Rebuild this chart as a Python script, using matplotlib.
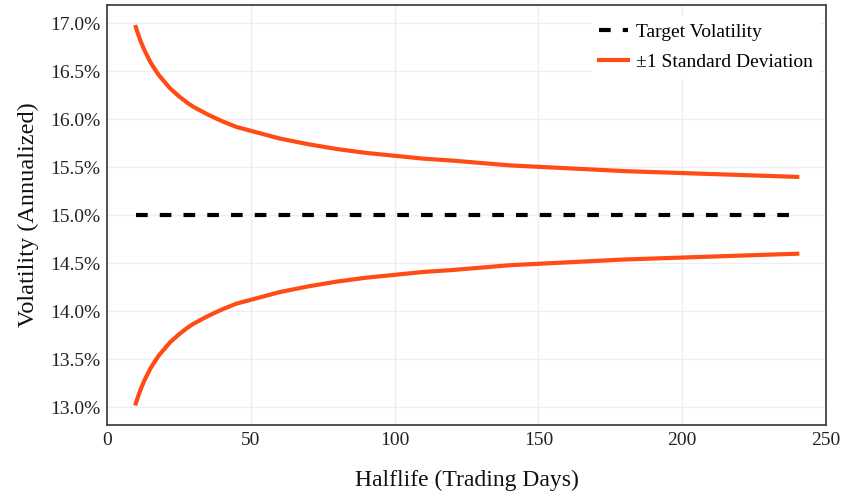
import matplotlib
matplotlib.use("Agg")
import matplotlib.pyplot as plt
from matplotlib.ticker import FuncFormatter

plt.rcParams['font.family'] = ['Liberation Serif', 'DejaVu Serif']

# halflife in trading days and the +/-1 std bands (annualized vol, %)
halflife = [10, 11, 12, 13, 14, 15, 16, 18, 20, 22, 25, 28, 30, 35, 40, 45, 50,
            60, 70, 80, 90, 100, 110, 120, 140, 160, 180, 200, 220, 240]
upper = [16.96, 16.87, 16.79, 16.72, 16.66, 16.60, 16.55, 16.46, 16.39, 16.32,
         16.24, 16.17, 16.13, 16.05, 15.98, 15.92, 15.88, 15.80, 15.74, 15.69,
         15.65, 15.62, 15.59, 15.57, 15.52, 15.49, 15.46, 15.44, 15.42, 15.40]
lower = [13.04, 13.13, 13.21, 13.28, 13.34, 13.40, 13.45, 13.54, 13.61, 13.68,
         13.76, 13.83, 13.87, 13.95, 14.02, 14.08, 14.12, 14.20, 14.26, 14.31,
         14.35, 14.38, 14.41, 14.43, 14.48, 14.51, 14.54, 14.56, 14.58, 14.60]
target = 15.0

orange = '#ff4b14'

fig = plt.figure(figsize=(8.44, 4.96), dpi=100)
ax = fig.add_axes([0.1268, 0.1431, 0.8519, 0.8468])

ax.plot([halflife[0], halflife[-1]], [target, target], color='black', lw=3,
        ls=(0, (2.8, 2.9)), label='Target Volatility')
ax.plot(halflife, upper, color=orange, lw=3, label='±1 Standard Deviation')
ax.plot(halflife, lower, color=orange, lw=3)

ax.set_xlim(0, 250)
ax.set_ylim(12.816, 17.19)
ax.set_xticks([0, 50, 100, 150, 200, 250])
ax.set_yticks([13.0, 13.5, 14.0, 14.5, 15.0, 15.5, 16.0, 16.5, 17.0])
ax.yaxis.set_major_formatter(FuncFormatter(lambda v, p: f'{v:.1f}%'))
ax.tick_params(length=0, labelsize=14, colors='#222222', pad=5)
ax.grid(True, color='#eceef4', lw=1)
ax.set_axisbelow(True)
for s in ax.spines.values():
    s.set_color('#444444')
    s.set_linewidth(1.3)

ax.set_xlabel('Halflife (Trading Days)', fontsize=17, color='#111111', labelpad=15)
ax.set_ylabel('Volatility (Annualized)', fontsize=17.5, color='#111111', labelpad=8)

leg = ax.legend(loc='upper right', bbox_to_anchor=(1.0, 0.988), fontsize=14,
                frameon=True, fancybox=False, edgecolor='none', framealpha=1,
                handlelength=1.5, handletextpad=0.4, borderaxespad=0.3,
                labelspacing=0.62)

fig.savefig('out.png', dpi=100)
